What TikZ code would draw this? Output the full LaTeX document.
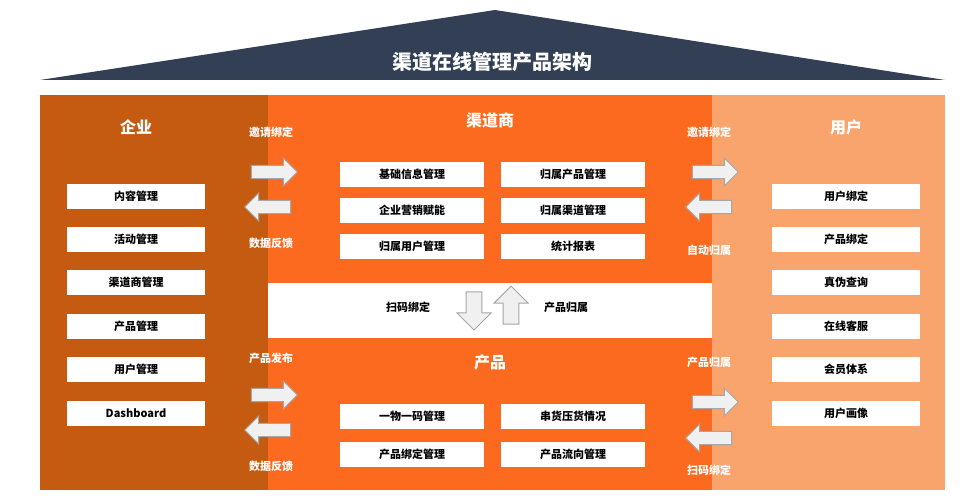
\documentclass[tikz,border=0pt]{standalone}
\usepackage{fontspec}
\setmainfont{Noto Sans CJK SC}[BoldFont={* Black}]
\usetikzlibrary{shapes.arrows}
\definecolor{navy}{HTML}{323F54}
\definecolor{dark}{HTML}{C55A11}
\definecolor{mid}{HTML}{FB6A1F}
\definecolor{light}{HTML}{F8A46C}
\tikzset{
 box/.style={fill=white,minimum height=25pt,font=\bfseries\fontsize{11}{13}\selectfont,inner sep=0pt},
 lbox/.style={box,minimum width=138pt},
 mbox/.style={box,minimum width=144pt},
 lbl/.style={text=white,font=\bfseries\fontsize{11}{13}\selectfont},
 ttl/.style={text=white,font=\bfseries\fontsize{16}{19}\selectfont},
 arr/.style={single arrow,fill=gray!12,draw=gray!70,line width=1pt,minimum height=46pt,minimum width=28pt,single arrow head extend=4pt,inner sep=3pt},
}
\begin{document}
\begin{tikzpicture}[x=1pt,y=-1pt]
\useasboundingbox (0,0) rectangle (968,500);
\fill[navy] (40,80) -- (495,10) -- (945,80) -- cycle;
\node[text=white,font=\bfseries\fontsize{20}{24}\selectfont] (title) at (492,62) {渠道在线管理产品架构};
\fill[dark] (40,95) rectangle (268,490);
\fill[mid] (268,95) rectangle (712,490);
\fill[light] (712,95) rectangle (945,490);
\fill[white] (268,283) rectangle (712,338);
\node[ttl] (t1) at (136,127) {企业};
\node[ttl] (t2) at (490,120) {渠道商};
\node[ttl] (t3) at (846,127) {用户};
\node[ttl] (t4) at (490,362) {产品};
\foreach \t [count=\i] in {内容管理,活动管理,渠道商管理,产品管理,用户管理,Dashboard}
  \node[lbox] (L\i) at (136,196+43.4*\i-43.4) {\t};
\foreach \t [count=\i] in {用户绑定,产品绑定,真伪查询,在线客服,会员体系,用户画像}
  \node[lbox,minimum width=148pt] (R\i) at (846,196+43.4*\i-43.4) {\t};
\node[mbox] (m1) at (412,174) {基础信息管理};
\node[mbox] (m2) at (573,174) {归属产品管理};
\node[mbox] (m3) at (412,210) {企业营销赋能};
\node[mbox] (m4) at (573,210) {归属渠道管理};
\node[mbox] (m5) at (412,246) {归属用户管理};
\node[mbox] (m6) at (573,246) {统计报表};
\node[mbox] (p1) at (412,416) {一物一码管理};
\node[mbox] (p2) at (573,416) {串货压货情况};
\node[mbox] (p3) at (412,454) {产品绑定管理};
\node[mbox] (p4) at (573,454) {产品流向管理};
\node[lbl] (a1) at (271,132) {邀请绑定};
\node[lbl] (a2) at (271,243) {数据反馈};
\node[lbl] (a3) at (271,358) {产品发布};
\node[lbl] (a4) at (271,466) {数据反馈};
\node[lbl] (b1) at (709,132) {邀请绑定};
\node[lbl] (b2) at (709,250) {自动归属};
\node[lbl] (b3) at (709,362) {产品归属};
\node[lbl] (b4) at (709,470) {扫码绑定};
\node[arr] (x1) at (271,172) {};
\node[arr,shape border rotate=180] (x2) at (271,207) {};
\node[arr] (x3) at (271,395) {};
\node[arr,shape border rotate=180] (x4) at (271,430) {};
\node[arr] (y1) at (712,172) {};
\node[arr,shape border rotate=180] (y2) at (712,207) {};
\node[arr] (y3) at (712,402) {};
\node[arr,shape border rotate=180] (y4) at (712,438) {};
\node[font=\bfseries\fontsize{11}{13}\selectfont] (s1) at (408,307) {扫码绑定};
\node[font=\bfseries\fontsize{11}{13}\selectfont] (s2) at (566,307) {产品归属};
\node[arr,minimum height=38pt,minimum width=34pt,shape border rotate=270] (d1) at (474,307) {};
\node[arr,minimum height=38pt,minimum width=34pt,shape border rotate=90] (d2) at (511,309) {};
\end{tikzpicture}
\end{document}
